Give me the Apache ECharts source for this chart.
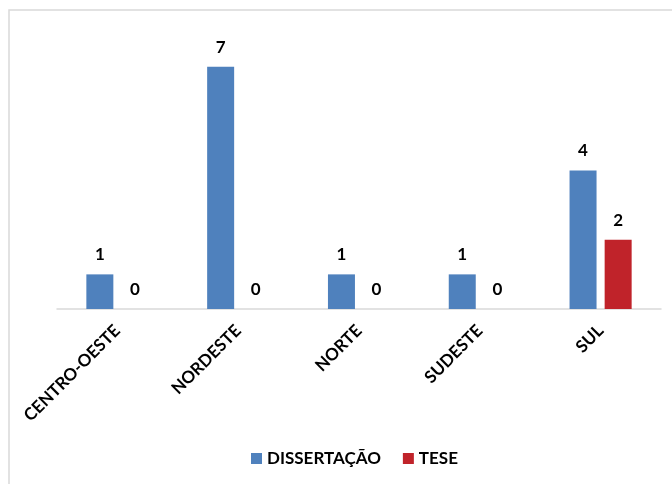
<!DOCTYPE html>
<html>
<head>
<meta charset="utf-8">
<script src="https://cdn.jsdelivr.net/npm/echarts@6/dist/echarts.min.js"></script>
<style>
  html, body { margin: 0; padding: 0; background: #fff; }
  #chart { width: 672px; height: 484px; }
</style>
</head>
<body>
<div id="chart"></div>
<script>
// dados
const regioes = ['CENTRO-OESTE', 'NORDESTE', 'NORTE', 'SUDESTE', 'SUL'];
const dissertacao = [1, 7, 1, 1, 4];
const tese = [0, 0, 0, 0, 2];

const fonte = 'Lato, "Open Sans", sans-serif';

const rotulo = {
  show: true,
  position: 'top',
  distance: 11,
  color: '#000',
  fontWeight: 'bold',
  fontSize: 17,
  fontFamily: fonte
};

echarts.init(document.getElementById('chart')).setOption({
  animation: false,
  textStyle: { fontFamily: fonte },
  graphic: [
    {
      type: 'rect',
      shape: { x: 9, y: 10, width: 700, height: 500 },
      style: { fill: 'none', stroke: '#d9d9d9', lineWidth: 1.5 },
      silent: true
    }
  ],
  grid: { left: 57, right: 11, top: 32, bottom: 175 },
  legend: {
    bottom: 12,
    left: 246,
    itemWidth: 11,
    itemHeight: 11,
    itemGap: 22,
    icon: 'rect',
    textStyle: { color: '#000', fontWeight: 'bold', fontSize: 17, fontFamily: fonte }
  },
  xAxis: {
    type: 'category',
    data: regioes,
    axisLine: { lineStyle: { color: '#d9d9d9', width: 1.5 } },
    axisTick: { show: false },
    axisLabel: {
      rotate: 45,
      margin: 19,
      color: '#000',
      fontWeight: 'bold',
      fontSize: 17,
      fontFamily: fonte
    }
  },
  yAxis: {
    type: 'value',
    min: 0,
    max: 8,
    show: false,
    splitLine: { show: false }
  },
  series: [
    {
      name: 'DISSERTAÇÃO',
      type: 'bar',
      data: dissertacao,
      barWidth: 27,
      barGap: '30%',
      itemStyle: { color: '#4f81bd' },
      label: rotulo
    },
    {
      name: 'TESE',
      type: 'bar',
      data: tese,
      barWidth: 27,
      itemStyle: { color: '#c0232a' },
      label: rotulo
    }
  ]
});
</script>
</body>
</html>
